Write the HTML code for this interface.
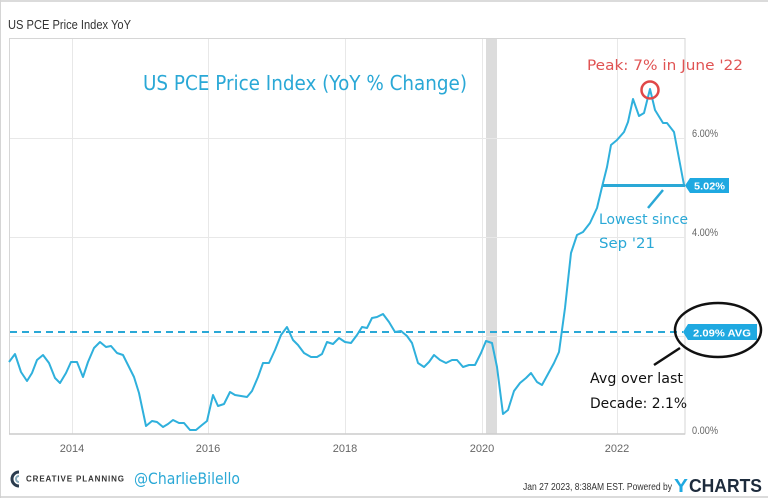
<!DOCTYPE html>
<html><head><meta charset="utf-8"><style>
html,body{margin:0;padding:0;background:#fff;}
svg{display:block;}
</style></head><body>
<svg width="768" height="498" viewBox="0 0 768 498" xmlns="http://www.w3.org/2000/svg">
<rect x="0" y="0" width="768" height="498" fill="#fff"/>
<line x1="0" y1="1" x2="768" y2="1" stroke="#cfcfcf" stroke-width="1.5"/>
<line x1="0.5" y1="0" x2="0.5" y2="498" stroke="#d5d5d5" stroke-width="1"/>
<line x1="0" y1="497" x2="768" y2="497" stroke="#cfcfcf" stroke-width="1.5"/>

<text x="8" y="29" font-family="Liberation Sans, sans-serif" font-size="13" fill="#333" textLength="123" lengthAdjust="spacingAndGlyphs">US PCE Price Index YoY</text>

<!-- plot frame -->
<rect x="9.5" y="38.5" width="675.5" height="395.5" fill="none" stroke="#d6d6d6" stroke-width="1"/>
<!-- recession band -->
<rect x="486" y="39" width="11" height="395" fill="#dcdcdc"/>
<!-- gridlines -->
<g stroke="#e8e8e8" stroke-width="1">
<line x1="72.5" y1="39" x2="72.5" y2="434"/>
<line x1="208.5" y1="39" x2="208.5" y2="434"/>
<line x1="345.5" y1="39" x2="345.5" y2="434"/>
<line x1="482.5" y1="39" x2="482.5" y2="434"/>
<line x1="617.5" y1="39" x2="617.5" y2="434"/>
<line x1="10" y1="138.5" x2="685" y2="138.5"/>
<line x1="10" y1="237.5" x2="685" y2="237.5"/>
<line x1="10" y1="336.5" x2="685" y2="336.5"/>
</g>
<line x1="9" y1="434" x2="685" y2="434" stroke="#cccccc" stroke-width="1.5"/>

<!-- y labels -->
<g font-family="Liberation Sans, sans-serif" font-size="11" fill="#666">
<text x="692" y="137" textLength="26" lengthAdjust="spacingAndGlyphs">6.00%</text>
<text x="692" y="236" textLength="26" lengthAdjust="spacingAndGlyphs">4.00%</text>
<text x="692" y="434" textLength="26" lengthAdjust="spacingAndGlyphs">0.00%</text>
</g>
<!-- x labels -->
<g font-family="Liberation Sans, sans-serif" font-size="11" fill="#666" text-anchor="middle">
<text x="72" y="452">2014</text>
<text x="208" y="452">2016</text>
<text x="345" y="452">2018</text>
<text x="482" y="452">2020</text>
<text x="617" y="452">2022</text>
</g>

<!-- avg dashed -->
<line x1="10" y1="332" x2="683" y2="332" stroke="#2aa8d6" stroke-width="2" stroke-dasharray="7,5"/>

<!-- series -->
<polyline fill="none" stroke="#2fb0dc" stroke-width="2" stroke-linejoin="round" points="9,362 15,354 21,372 27,381 32,373 37,360 43,355 49,363 55,378 60,383 66,373 71,362 77,362 83,377 88,362 94,348 100,342 106,347 111,346 117,353 123,355 128,365 134,377 139,393 146,426 152,421 157,422 163,427 168,424 173,420 179,423 184,423 190,430 196,430 202,425 207,421 213,395 218,406 224,404 230,392 235,395 241,396 247,397 252,391 258,377 263,363 269,363 275,350 281,335 287,327 293,340 298,345 304,353 311,357 317,357 322,354 327,342 333,344 339,338 345,342 351,343 357,335 362,327 367,328 372,318 377,317 383,314 389,322 395,332 401,331 407,336 412,343 418,363 424,367 429,362 434,355 440,360 446,363 452,360 457,360 463,367 469,365 475,365 481,353 486,341 492,343 497,367 503,414 508,410 514,391 520,383 526,378 531,373 537,382 542,385 548,374 554,363 559,352 565,308 571,253 577,235 583,232 590,223 597,208 602,187 607,167 611,145 617,140 624,132 628,122 633,99 639,116 644,113 650,89 655,110 663,123 667,123 674,132 684,185"/>

<!-- 5.02 line and tag -->
<line x1="603" y1="185.5" x2="685" y2="185.5" stroke="#2aa8d6" stroke-width="3"/>
<path d="M685,185.5 L690,178 L729,178 L729,193 L690,193 Z" fill="#1fa9e1"/>
<text x="694" y="189.5" font-family="Liberation Sans, sans-serif" font-size="10.5" font-weight="bold" fill="#fff" textLength="31" lengthAdjust="spacingAndGlyphs">5.02%</text>

<!-- avg tag -->
<path d="M683,332 L688,324 L757,324 L757,340 L688,340 Z" fill="#1fa9e1"/>
<text x="693" y="336.5" font-family="Liberation Sans, sans-serif" font-size="10.5" font-weight="bold" fill="#fff" textLength="58" lengthAdjust="spacingAndGlyphs">2.09% AVG</text>
<ellipse cx="718" cy="330" rx="43" ry="27" fill="none" stroke="#111" stroke-width="2.5"/>
<line x1="680" y1="348" x2="654" y2="365" stroke="#111" stroke-width="2.5"/>
<g font-family="DejaVu Sans, sans-serif" font-size="14" fill="#111">
<text x="590" y="383" textLength="93" lengthAdjust="spacingAndGlyphs">Avg over last</text>
<text x="590" y="408" textLength="97" lengthAdjust="spacingAndGlyphs">Decade: 2.1%</text>
</g>

<!-- lowest since -->
<line x1="663" y1="190" x2="648" y2="208" stroke="#2aa8d6" stroke-width="2.5"/>
<g font-family="DejaVu Sans, sans-serif" font-size="14" fill="#2aa8d6">
<text x="599" y="224" textLength="89" lengthAdjust="spacingAndGlyphs">Lowest since</text>
<text x="599" y="248" textLength="56" lengthAdjust="spacingAndGlyphs">Sep '21</text>
</g>

<!-- peak -->
<text x="587" y="70" font-family="DejaVu Sans, sans-serif" font-size="14" fill="#e05353" textLength="156" lengthAdjust="spacingAndGlyphs">Peak: 7% in June '22</text>
<circle cx="650" cy="90" r="8.5" fill="none" stroke="#e04848" stroke-width="2.5"/>

<!-- big title -->
<text x="143" y="90" font-family="DejaVu Sans, sans-serif" font-size="20" fill="#2aa8d6" textLength="324" lengthAdjust="spacingAndGlyphs">US PCE Price Index (YoY % Change)</text>

<!-- footer left -->
<path d="M19,472 A7,7 0 1 0 19,486" fill="none" stroke="#2b3c4e" stroke-width="3"/>
<path d="M19,476 A3,3 0 1 0 19,482" fill="none" stroke="#8ab" stroke-width="2"/>
<text x="26" y="481.5" font-family="Liberation Sans, sans-serif" font-size="8" font-weight="bold" fill="#333" textLength="99" lengthAdjust="spacing" letter-spacing="1">CREATIVE PLANNING</text>
<text x="134" y="484" font-family="DejaVu Sans, sans-serif" font-size="16" fill="#2aa8d6" textLength="106" lengthAdjust="spacingAndGlyphs">@CharlieBilello</text>

<!-- footer right -->
<text x="523" y="490" font-family="Liberation Sans, sans-serif" font-size="10" fill="#333" textLength="149" lengthAdjust="spacingAndGlyphs">Jan 27 2023, 8:38AM EST.  Powered by</text>
<text x="674" y="492" font-family="Liberation Sans, sans-serif" font-size="18" font-weight="bold" fill="#1fa9e1" textLength="14" lengthAdjust="spacingAndGlyphs">Y</text>
<text x="689" y="492" font-family="Liberation Sans, sans-serif" font-size="18" font-weight="bold" fill="#1d2b3c" textLength="73" lengthAdjust="spacingAndGlyphs">CHARTS</text>
</svg>
</body></html>
